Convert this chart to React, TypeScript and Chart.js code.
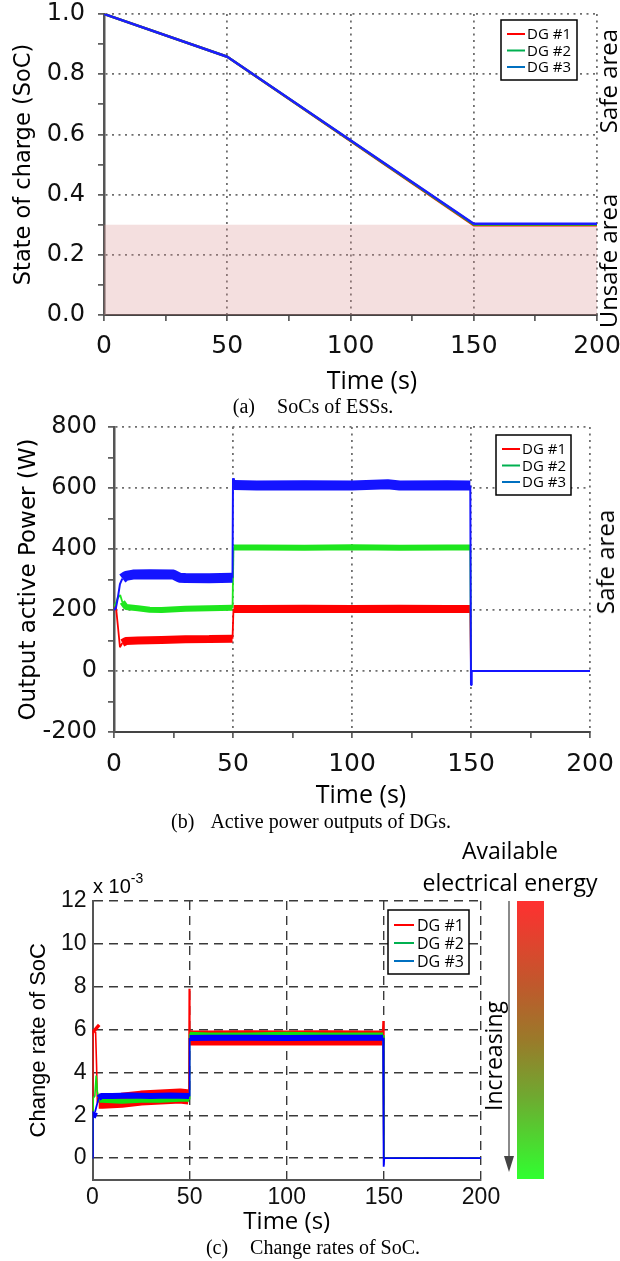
import React, { useEffect, useRef } from 'react';
import { Chart, registerables } from 'chart.js';

Chart.register(...registerables);

// ---------------- DATA ----------------
const seriesNames = ['DG #1', 'DG #2', 'DG #3'];
const legendColors = ['#ff0000', '#00b050', '#0070c0'];

// (a) SoCs of ESSs
const socTime = [0, 50, 150, 200];
const socDG1 = [1.0, 0.858, 0.298, 0.298];
const socDG2 = [1.0, 0.858, 0.301, 0.301];
const socDG3 = [1.0, 0.858, 0.303, 0.303];
const unsafeTime = [0, 200];
const unsafeLimit = [0.3, 0.3];
const timeTicks = [0, 25, 50, 75, 100, 125, 150, 175, 200];
const socTicks = [0, 0.1, 0.2, 0.3, 0.4, 0.5, 0.6, 0.7, 0.8, 0.9, 1.0];

// (b) Active power outputs of DGs (W)
const pTimeDG1 = [0, 0.8, 1.6, 2.5, 3.5, 5, 10, 20, 30, 40, 49.8, 50.2, 60, 80, 100, 120, 140, 149.7, 150, 200];
const pDG1 = [216, 212, 150, 78, 92, 98, 100, 102, 104, 105, 106, 203, 203, 204, 203, 204, 203, 203, 0, 0];
const pTimeDG2 = [0, 0.8, 1.6, 2.6, 3.5, 5, 10, 15, 20, 30, 40, 49.8, 50.2, 60, 80, 100, 120, 140, 149.7, 150, 200];
const pDG2 = [212, 222, 240, 249, 226, 210, 206, 201, 200, 204, 206, 207, 405, 405, 404, 406, 404, 405, 405, 0, 0];
const pTimeDG3 = [0, 0.8, 1.6, 2.5, 3.5, 5, 8, 15, 25, 27.5, 30, 40, 49.8, 50, 50.4, 60, 80, 100, 115, 120, 140, 149.7, 150, 150.3, 200];
const pDG3 = [200, 206, 240, 285, 303, 312, 316, 317, 316, 306, 305, 304, 306, 632, 610, 608, 609, 608, 612, 608, 609, 608, -46, 0, 0];
const powerTicks = [-200, -100, 0, 100, 200, 300, 400, 500, 600, 700, 800];

// (c) Change rates of SoC (x 10^-3)
const rTimeDG1 = [0, 0.3, 1.6, 2.1, 2.5, 3.2, 5, 15, 25, 35, 45, 49.6, 49.8, 50.1, 60, 80, 100, 120, 140, 149.3, 149.6, 150, 200];
const rDG1 = [0, 6.0, 5.9, 4.3, 2.6, 2.65, 2.65, 2.7, 2.8, 2.85, 2.9, 2.85, 7.9, 5.6, 5.6, 5.62, 5.6, 5.62, 5.6, 5.6, 6.4, 0, 0];
const rTimeDG2 = [0, 0.4, 1.2, 1.9, 2.5, 3.5, 5, 15, 25, 35, 45, 49.7, 50.0, 60, 80, 100, 120, 140, 149.6, 150, 200];
const rDG2 = [0, 2.8, 2.9, 3.85, 3.1, 2.7, 2.7, 2.65, 2.7, 2.7, 2.75, 2.75, 5.78, 5.75, 5.75, 5.78, 5.75, 5.75, 5.75, 0, 0];
const rTimeDG3 = [0, 0.2, 1.3, 2.3, 3.2, 4.5, 10, 20, 30, 40, 49.7, 50.0, 60, 80, 100, 120, 140, 149.6, 149.9, 150.2, 200];
const rDG3 = [0, 1.9, 2.15, 2.5, 2.8, 2.9, 2.9, 2.92, 2.9, 2.92, 2.9, 5.6, 5.62, 5.62, 5.6, 5.62, 5.62, 5.62, -0.4, 0, 0];
const rateTimeTicks = [0, 50, 100, 150, 200];
const rateTicks = [-1, 0, 2, 4, 6, 8, 10, 12];

// ---------------- HELPERS ----------------
const pts = (t: number[], v: number[]) => t.map((x, i) => ({ x, y: v[i] }));
const CLEAR = 'rgba(0,0,0,0)';
const DOT = [2, 4.5];
const DASH = [9, 6];
const DOT_COLOR = '#6e6e6e';

const fixBox = (s: any, w?: number, h?: number) => {
  if (w !== undefined) s.width = w;
  if (h !== undefined) s.height = h;
  s.paddingLeft = 0;
  s.paddingRight = 0;
  s.paddingTop = 0;
  s.paddingBottom = 0;
};

const bandSegment = (band: number, thin: number) => ({
  borderWidth: (c: any) => {
    const x0 = c.p0.parsed.x, x1 = c.p1.parsed.x, y0 = c.p0.parsed.y, y1 = c.p1.parsed.y;
    return x1 - x0 > 1.0 && Math.abs(y0) > 1e-6 && Math.abs(y1) > 1e-6 ? band : thin;
  },
});

function makeBoxLegend(cfg: { right: number; top: number; w: number; h: number; first: number; row: number; lx: number; ll: number; tx: number; font: string }) {
  return {
    id: 'boxLegend',
    afterDatasetsDraw(chart: any) {
      const { ctx, chartArea } = chart;
      const x0 = chartArea.right - cfg.right - cfg.w;
      const y0 = chartArea.top + cfg.top;
      ctx.save();
      ctx.fillStyle = '#fff';
      ctx.fillRect(x0, y0, cfg.w, cfg.h);
      ctx.strokeStyle = '#000';
      ctx.lineWidth = 1.5;
      ctx.strokeRect(x0, y0, cfg.w, cfg.h);
      ctx.font = cfg.font;
      ctx.textBaseline = 'middle';
      ctx.textAlign = 'left';
      seriesNames.forEach((name, i) => {
        const y = y0 + cfg.first + i * cfg.row;
        ctx.strokeStyle = legendColors[i];
        ctx.lineWidth = 2;
        ctx.beginPath();
        ctx.moveTo(x0 + cfg.lx, y);
        ctx.lineTo(x0 + cfg.lx + cfg.ll, y);
        ctx.stroke();
        ctx.fillStyle = '#000';
        ctx.fillText(name, x0 + cfg.tx, y + 1);
      });
      ctx.restore();
    },
  };
}

const baseOptions = (padding: any) => ({
  responsive: false,
  animation: false as const,
  events: [] as any[],
  layout: { padding },
  elements: { point: { radius: 0 }, line: { tension: 0, borderCapStyle: 'butt', borderJoinStyle: 'bevel' } },
  plugins: { legend: { display: false }, tooltip: { enabled: false } },
});

// ---------------- CONFIGS ----------------
function configA(): any {
  return {
    type: 'line',
    data: {
      datasets: [
        { label: seriesNames[0], data: pts(socTime, socDG1), borderColor: '#ff1010', borderWidth: 2.5, order: 3, fill: false },
        { label: seriesNames[1], data: pts(socTime, socDG2), borderColor: '#14c814', borderWidth: 2.5, order: 2, fill: false },
        { label: seriesNames[2], data: pts(socTime, socDG3), borderColor: '#1c1cff', borderWidth: 2.5, order: 1, fill: false },
        { label: 'Unsafe area', data: pts(unsafeTime, unsafeLimit), borderWidth: 0, borderColor: CLEAR, backgroundColor: 'rgba(215,140,140,0.28)', fill: 'origin', order: 10 },
      ],
    },
    options: {
      ...baseOptions({ top: 14, right: 23, left: 0, bottom: 0 }),
      scales: {
        x: {
          type: 'linear', min: 0, max: 200,
          afterBuildTicks: (s: any) => { s.ticks = timeTicks.map((v) => ({ value: v })); },
          afterFit: (s: any) => fixBox(s, undefined, 77),
          ticks: { autoSkip: false, maxRotation: 0, padding: 10, color: '#111', font: { family: 'DejaVu Sans', size: 25 }, callback: (v: number) => (v % 50 === 0 ? String(v) : '') },
          grid: { color: (c: any) => (c.tick && c.tick.value % 50 === 0 && c.tick.value > 0 ? DOT_COLOR : CLEAR), lineWidth: 1.8, tickLength: 6, tickColor: '#444', tickWidth: 1.5, borderDash: DOT },
          border: { display: true, color: '#444', width: 2, dash: DOT },
        },
        y: {
          type: 'linear', min: 0, max: 1,
          afterBuildTicks: (s: any) => { s.ticks = socTicks.map((v) => ({ value: v })); },
          afterFit: (s: any) => fixBox(s, 104),
          ticks: { autoSkip: false, padding: 13, color: '#111', font: { family: 'DejaVu Sans', size: 24 }, callback: (v: number) => (Math.round(v * 10) % 2 === 0 ? v.toFixed(1) : '') },
          grid: { color: (c: any) => (c.tick && Math.round(c.tick.value * 10) % 2 === 0 && c.tick.value > 0 ? DOT_COLOR : CLEAR), lineWidth: 1.8, tickLength: 6, tickColor: '#444', tickWidth: 1.5, borderDash: DOT },
          border: { display: true, color: '#555', width: 2.5, dash: DOT },
          title: { display: true, text: 'State of charge (SoC)', color: '#000', font: { family: 'DejaVu Sans', size: 22.5 }, padding: { top: 11, bottom: 0 } },
        },
      },
    },
    plugins: [makeBoxLegend({ right: 20, top: 6, w: 76, h: 60, first: 14, row: 16.5, lx: 6, ll: 18, tx: 26, font: '15px "Open Sans"' })],
  };
}

function configB(): any {
  return {
    type: 'line',
    data: {
      datasets: [
        { label: seriesNames[0], data: pts(pTimeDG1, pDG1), borderColor: '#ff0000', borderWidth: 1.8, segment: bandSegment(8, 1.8), order: 3, fill: false },
        { label: seriesNames[1], data: pts(pTimeDG2, pDG2), borderColor: '#1ee61e', borderWidth: 1.8, segment: bandSegment(6, 1.8), order: 2, fill: false },
        { label: seriesNames[2], data: pts(pTimeDG3, pDG3), borderColor: '#1414ff', borderWidth: 2, segment: bandSegment(10, 2), order: 1, fill: false },
      ],
    },
    options: {
      ...baseOptions({ top: 13, right: 30, left: 0, bottom: 0 }),
      scales: {
        x: {
          type: 'linear', min: 0, max: 200,
          afterBuildTicks: (s: any) => { s.ticks = timeTicks.map((v) => ({ value: v })); },
          afterFit: (s: any) => fixBox(s, undefined, 78),
          ticks: { autoSkip: false, maxRotation: 0, padding: 11, color: '#111', font: { family: 'DejaVu Sans', size: 25 }, callback: (v: number) => (v % 50 === 0 ? String(v) : '') },
          grid: { color: (c: any) => (c.tick && c.tick.value % 50 === 0 && c.tick.value > 0 ? DOT_COLOR : CLEAR), lineWidth: 1.8, tickLength: 6, tickColor: '#444', tickWidth: 1.5, borderDash: DOT },
          border: { display: true, color: '#444', width: 2, dash: DOT },
        },
        y: {
          type: 'linear', min: -200, max: 800,
          afterBuildTicks: (s: any) => { s.ticks = powerTicks.map((v) => ({ value: v })); },
          afterFit: (s: any) => fixBox(s, 114),
          ticks: { autoSkip: false, padding: 11, color: '#111', font: { family: 'DejaVu Sans', size: 24 }, callback: (v: number) => (v % 200 === 0 ? String(v) : '') },
          grid: { color: (c: any) => (c.tick && c.tick.value % 200 === 0 && c.tick.value > -200 ? DOT_COLOR : CLEAR), lineWidth: 1.8, tickLength: 6, tickColor: '#444', tickWidth: 1.5, borderDash: DOT },
          border: { display: true, color: '#555', width: 2.5, dash: DOT },
          title: { display: true, text: 'Output active Power (W)', color: '#000', font: { family: 'DejaVu Sans', size: 23 }, padding: { top: 15, bottom: 0 } },
        },
      },
    },
    plugins: [makeBoxLegend({ right: 19, top: 8, w: 75, h: 60, first: 14, row: 16.5, lx: 6, ll: 18, tx: 26, font: '15px "Open Sans"' })],
  };
}

function configC(): any {
  return {
    type: 'line',
    data: {
      datasets: [
        { label: seriesNames[0], data: pts(rTimeDG1, rDG1), borderColor: '#ff0000', borderWidth: 1.6, segment: bandSegment(15, 1.6), order: 3, fill: false },
        { label: seriesNames[1], data: pts(rTimeDG2, rDG2), borderColor: '#10e010', borderWidth: 1.6, segment: bandSegment(5, 1.6), order: 2, fill: false },
        { label: seriesNames[2], data: pts(rTimeDG3, rDG3), borderColor: '#0000ff', borderWidth: 1.8, segment: bandSegment(6, 1.8), order: 1, fill: false },
      ],
    },
    options: {
      ...baseOptions({ top: 69, right: 139, left: 0, bottom: 0 }),
      scales: {
        x: {
          type: 'linear', min: 0, max: 200,
          afterBuildTicks: (s: any) => { s.ticks = rateTimeTicks.map((v) => ({ value: v })); },
          afterFit: (s: any) => fixBox(s, undefined, 57.5),
          ticks: { autoSkip: false, maxRotation: 0, padding: 4, color: '#111', font: { family: 'Liberation Sans', size: 23 } },
          grid: { color: (c: any) => (c.tick && c.tick.value > 0 ? '#3a3a3a' : CLEAR), lineWidth: 1.4, drawTicks: false, borderDash: DASH },
          border: { display: true, color: '#555', width: 2, dash: DASH },
          title: { display: true, text: 'Time (s)', color: '#000', font: { family: 'Open Sans', size: 24 }, padding: { top: 0, bottom: 0 } },
        },
        y: {
          type: 'linear', min: -1, max: 12,
          afterBuildTicks: (s: any) => { s.ticks = rateTicks.map((v) => ({ value: v })); },
          afterFit: (s: any) => fixBox(s, 92.5),
          ticks: { autoSkip: false, padding: 6, color: '#111', font: { family: 'Liberation Sans', size: 23 }, callback: (v: number) => (v >= 0 ? String(v) : '') },
          grid: { color: (c: any) => (c.tick && c.tick.value >= 0 ? '#3a3a3a' : CLEAR), lineWidth: 1.4, drawTicks: false, borderDash: DASH },
          border: { display: true, color: '#555', width: 2, dash: DASH },
          title: { display: true, text: 'Change rate of SoC', color: '#000', font: { family: 'Liberation Sans', size: 22 }, padding: { top: 26, bottom: 0 } },
        },
      },
    },
    plugins: [makeBoxLegend({ right: 12, top: 9, w: 81, h: 64, first: 15, row: 18, lx: 6, ll: 20, tx: 29, font: '16px "Open Sans"' })],
  };
}

// ---------------- COMPONENTS ----------------
function ChartCanvas({ top, height, make }: { top: number; height: number; make: () => any }) {
  const ref = useRef<HTMLCanvasElement>(null);
  useEffect(() => {
    const chart = new Chart(ref.current as HTMLCanvasElement, make());
    return () => chart.destroy();
  }, []);
  return <canvas ref={ref} width={620} height={height} style={{ position: 'absolute', left: 0, top, width: 620, height }} />;
}

function T({ cx, cy, rot = 0, size, family = '"Open Sans"', children }: { cx: number; cy: number; rot?: number; size: number; family?: string; children: any }) {
  return (
    <div
      style={{
        position: 'absolute', left: cx, top: cy, transform: `translate(-50%, -50%) rotate(${rot}deg)`,
        whiteSpace: 'nowrap', lineHeight: 1, fontSize: size, fontFamily: family, color: '#000',
      }}
    >
      {children}
    </div>
  );
}

const serif = '"Liberation Serif", "Times New Roman", serif';

export default function App() {
  return (
    <div style={{ position: 'absolute', left: 0, top: 0, width: 620, height: 1261, background: '#fff', overflow: 'hidden' }}>
      {/* (a) */}
      <ChartCanvas top={0} height={392} make={configA} />
      <T cx={372} cy={379} size={25}>Time (s)</T>
      <T cx={608} cy={81} rot={-90} size={24}>Safe area</T>
      <T cx={608} cy={261} rot={-90} size={24}>Unsafe area</T>
      <T cx={313} cy={406} size={20} family={serif}>(a)<span style={{ marginLeft: 22 }}>SoCs of ESSs.</span></T>

      {/* (b) */}
      <ChartCanvas top={414} height={396} make={configB} />
      <T cx={361} cy={793} size={25}>Time (s)</T>
      <T cx={605} cy={562} rot={-90} size={24}>Safe area</T>
      <T cx={311} cy={821} size={20} family={serif}>(b)<span style={{ marginLeft: 16 }}>Active power outputs of DGs.</span></T>

      {/* (c) */}
      <ChartCanvas top={832} height={405} make={configC} />
      <div style={{ position: 'absolute', left: 93, top: 873, fontFamily: '"Liberation Sans"', fontSize: 20, lineHeight: 1, whiteSpace: 'nowrap' }}>
        x 10<sup style={{ fontSize: 14, position: 'relative', top: -2 }}>-3</sup>
      </div>
      <T cx={510} cy={850} size={23}>Available</T>
      <T cx={510} cy={882} size={23}>electrical energy</T>
      <div style={{ position: 'absolute', left: 517, top: 901, width: 27, height: 278, background: 'linear-gradient(to bottom, #ff3030 0%, #c0582c 30%, #9a7a2a 50%, #70a830 70%, #30ff30 100%)' }} />
      <div style={{ position: 'absolute', left: 508, top: 901, width: 2, height: 258, background: '#8a8a8a' }} />
      <div style={{ position: 'absolute', left: 503.5, top: 1156, width: 0, height: 0, borderLeft: '5.5px solid transparent', borderRight: '5.5px solid transparent', borderTop: '16px solid #444' }} />
      <T cx={493} cy={1056} rot={-90} size={23}>Increasing</T>
      <T cx={313} cy={1247} size={20} family={serif}>(c)<span style={{ marginLeft: 22 }}>Change rates of SoC.</span></T>
    </div>
  );
}
